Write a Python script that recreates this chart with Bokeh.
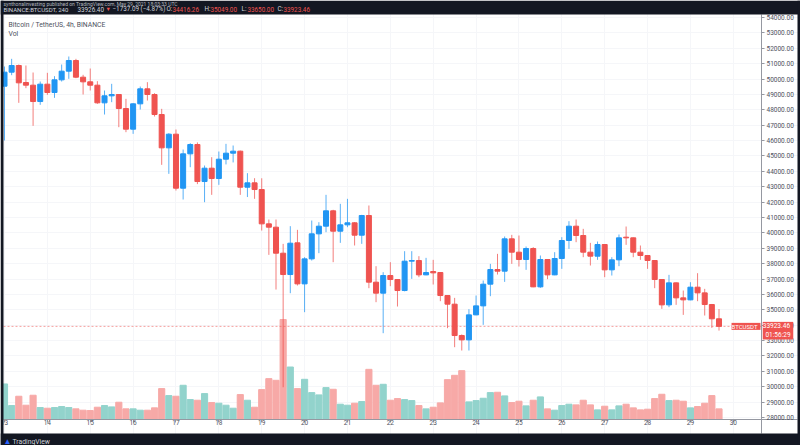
from bokeh.plotting import figure
from bokeh.models import Range1d, FixedTicker, NumeralTickFormatter, Label, BoxAnnotation
from bokeh.embed import file_html
from bokeh.resources import INLINE

# ---- data (BINANCE:BTCUSDT, 4h candles, May 13 00:00 -> May 29 16:00, 2021) ----
day_labels = ["13", "14", "15", "16", "17", "18", "19", "20", "21", "22",
              "23", "24", "25", "26", "27", "28", "29", "30"]
candles_per_day = 6

opens = [49536, 50446, 50880, 49775, 49601, 48539, 49666, 49125, 49948, 50511,
         51205, 50121, 49818, 49601, 48453, 48908, 48995, 48084, 46741, 48388,
         49363, 48995, 47694, 45527, 46416, 42905, 45137, 45744, 43339, 44205,
         43534, 44790, 45181, 45311, 42970, 43252, 42819, 40587, 40371, 38680,
         37294, 39353, 36687, 38312, 39938, 40436, 41433, 40111, 40523, 40653,
         39851, 41130, 36796, 36081, 37229, 36969, 36254, 38161, 38204, 37272,
         37489, 37424, 35929, 35366, 33329, 33047, 34672, 35257, 36666, 37619,
         37511, 39613, 38746, 38270, 38985, 36493, 38270, 37272, 38335, 39505,
         40436, 39830, 38746, 38486, 39245, 37598, 38248, 39721, 39678, 38746,
         38530, 38205, 36970, 35322, 36753, 35778, 35648, 36471, 36102, 35344,
         34416.26]
highs = [50815, 51313, 50945, 50880, 50425, 49839, 50403, 50186, 50945, 51465,
         51313, 50273, 50685, 49861, 49255, 49688, 49020, 48713, 48431, 49514,
         49796, 49080, 48063, 46481, 46719, 45419, 45831, 45880, 44379, 44920,
         45289, 45787, 45679, 45350, 43881, 43555, 43550, 40869, 40869, 39287,
         40436, 40198, 38421, 40804, 40696, 42473, 41500, 41888, 42213, 40700,
         41173, 41780, 37836, 37446, 38096, 37000, 38811, 38811, 38486, 38378,
         38248, 37450, 35950, 35777, 33400, 35041, 35929, 36904, 37987, 38638,
         39765, 39873, 39830, 39115, 39071, 38530, 38300, 38746, 39721, 40761,
         40870, 40263, 39353, 39440, 39270, 38421, 39895, 40415, 39700, 39180,
         38550, 38230, 37000, 37273, 36780, 36254, 36796, 37381, 36363, 35380,
         35049.00]
lows = [46004, 50251, 48453, 49406, 46958, 48323, 48973, 48778, 49839, 50013,
        50056, 48995, 49255, 48388, 47694, 48496, 46871, 46546, 46437, 48019,
        48605, 47564, 44422, 43837, 42754, 42169, 44270, 43170, 41995, 42472,
        43122, 44450, 44580, 42472, 42330, 42212, 40153, 38572, 36318, 29969,
        36080, 36579, 34846, 38204, 38681, 40046, 38096, 39353, 40371, 39180,
        39288, 36406, 35496, 33480, 36536, 35214, 36200, 37012, 37121, 37250,
        36644, 35561, 33805, 32570, 32354, 32354, 34650, 34022, 35886, 37294,
        36817, 37987, 37814, 37598, 36471, 36428, 36991, 37250, 37663, 38963,
        39396, 38421, 37879, 38248, 37121, 37229, 37836, 39223, 38421, 38248,
        37663, 36406, 35063, 35171, 35322, 34672, 35620, 35561, 34629, 33827,
        33650.00]
closes = [50446, 50880, 49753, 49601, 48539, 49666, 49125, 49948, 50511, 51205,
          50121, 49818, 49601, 48453, 48908, 48995, 48084, 46741, 48388, 49363,
          48995, 47694, 45527, 46416, 42905, 45137, 45744, 43339, 44205, 43534,
          44790, 45181, 45311, 42970, 43252, 42819, 40587, 40371, 38680, 37294,
          39330, 36687, 38312, 39938, 40436, 41433, 40111, 40523, 40653, 39851,
          41130, 36796, 36081, 37229, 36969, 36254, 38161, 38204, 37272, 37424,
          37402, 35929, 35366, 33329, 33047, 34672, 35257, 36666, 37619, 37511,
          39613, 38746, 38270, 38985, 36493, 38270, 37272, 38335, 39505, 40436,
          39830, 38746, 38486, 39245, 37598, 38248, 39678, 39678, 38746, 38530,
          38205, 36970, 35322, 36753, 35778, 35648, 36471, 36102, 35344, 34416,
          33923.46]
volumes = [107, 42, 70, 43, 73, 36, 34, 36, 39, 36,
           32, 28, 27, 37, 42, 38, 52, 32, 32, 28,
           28, 35, 93, 72, 70, 103, 60, 58, 78, 51,
           49, 43, 34, 75, 58, 37, 90, 123, 118, 301,
           158, 93, 121, 81, 74, 96, 91, 46, 43, 49,
           54, 151, 103, 106, 58, 63, 60, 57, 42, 32,
           37, 50, 120, 133, 147, 53, 57, 64, 81, 82,
           71, 51, 55, 41, 58, 68, 32, 28, 42, 46,
           44, 58, 44, 29, 40, 29, 41, 46, 35, 29,
           31, 63, 76, 57, 58, 55, 35, 39, 49, 72,
           32]
price_ticks = list(range(28000, 54001, 1000))

header_top = "synthonalinvesting published on TradingView.com, May 29, 2021 18:03:33 UTC"
symbol_text = "BINANCE:BTCUSDT, 240"
last_text = "33926.40"
change_text = "\u22121737.09 (\u22124.87%)"
ohlc_names = ["O:", "H:", "L:", "C:"]
legend_title = "Bitcoin / TetherUS, 4h, BINANCE"
countdown = "01:56:29"

# ---- styling / layout constants ----
UP = "#2196F3"
DOWN = "#EF5350"
VOL_UP = "#92D3CC"
VOL_DOWN = "#F7A9A7"
DARK = "#131722"
FONT = "Roboto"
W, H = 800, 445
X0, SLOT = 4.0, 7.145            # pixel of first candle, pixels per candle
Y_REF, P_REF, PX_PER_1000 = 17.0, 54000.0, 15.385
VOL_BASE_PX = 419.0              # volume baseline pixel row
VOL_PX_PER_UNIT = 100.0 / 301.0


def ix(px):      # pixel column -> candle index
    return (px - X0) / SLOT


def pr(py):      # pixel row -> price
    return P_REF - (py - Y_REF) / PX_PER_1000 * 1000.0


n = len(opens)
idx = list(range(n))
is_up = [c >= o for o, c in zip(opens, closes)]
body_top = [max(o, c) for o, c in zip(opens, closes)]
body_bot = [min(o, c) for o, c in zip(opens, closes)]
ccol = [UP if u else DOWN for u in is_up]
vcol = [VOL_UP if u else VOL_DOWN for u in is_up]

p = figure(width=W, height=H, output_backend="svg", toolbar_location=None,
           x_range=Range1d(ix(0), ix(W)), y_range=Range1d(pr(H), pr(0)),
           y_axis_location="right", title_location=None,
           min_border=0, min_border_left=0, min_border_right=0,
           min_border_top=0, min_border_bottom=0,
           background_fill_color="white", border_fill_color=DARK,
           outline_line_color=None)

p.extra_y_ranges = {"vol": Range1d(-(H - VOL_BASE_PX) / VOL_PX_PER_UNIT,
                                   VOL_BASE_PX / VOL_PX_PER_UNIT)}

# grid (very faint)
p.ygrid.ticker = FixedTicker(ticks=price_ticks)
p.xgrid.ticker = FixedTicker(ticks=[k * candles_per_day for k in range(len(day_labels))])
p.grid.grid_line_color = "#f5f6f9"

# volume
p.vbar(x=idx, top=volumes, bottom=0, width=0.86, fill_color=vcol, line_color=vcol,
       y_range_name="vol")

# price line (dotted) up to the price scale
p.segment(x0=[ix(3)], x1=[ix(761)], y0=[closes[-1]], y1=[closes[-1]],
          line_color=DOWN, line_alpha=0.55, line_dash="2 2", line_width=1)

# candles
p.segment(x0=idx, y0=lows, x1=idx, y1=highs, line_color=ccol, line_width=1, line_alpha=0.75)
p.vbar(x=idx, top=body_top, bottom=body_bot, width=0.7, fill_color=ccol, line_color=ccol)

# axes, fixed inside the frame
ya = p.yaxis[0]
ya.fixed_location = ix(761)
ya.bounds = (pr(433), pr(14))
ya.ticker = FixedTicker(ticks=price_ticks)
ya.formatter = NumeralTickFormatter(format="0.00")
xa = p.xaxis[0]
xa.fixed_location = pr(419)
xa.bounds = (ix(3), ix(797))
xa.ticker = FixedTicker(ticks=[k * candles_per_day for k in range(len(day_labels))])
xa.major_label_overrides = {k * candles_per_day: d for k, d in enumerate(day_labels)}
for ax in (ya, xa):
    ax.major_label_text_font = FONT
    ax.major_label_text_font_size = "6.5px"
    ax.major_label_text_color = "#50535e"
    ax.major_tick_out = 3
    ax.major_tick_in = 0
    ax.major_tick_line_color = "#9598a1"
    ax.minor_tick_line_color = None
    ax.axis_line_color = "#9598a1"
    ax.major_label_standoff = 2
xa.major_label_standoff = -3

# dark frame bands of the snapshot
for (l, r, t, b) in [(0, W, 0, 14), (0, W, 433, H), (0, 3, 0, H), (797, W, 0, H)]:
    p.add_layout(BoxAnnotation(left=ix(l), right=ix(r), top=pr(t), bottom=pr(b),
                               fill_color=DARK, fill_alpha=1.0, line_color=None))


# ---- text annotations (screen units: x = canvas x, y = H - canvas y) ----
def lab(x, cy, text, color, size="6.3px", baseline="middle", **kw):
    p.add_layout(Label(x=x, y=H - cy, x_units="screen", y_units="screen", text=text,
                       text_color=color, text_font=FONT, text_font_size=size,
                       text_baseline=baseline, **kw))


lab(3, 0, header_top, "#b2b5be", size="5px", baseline="top")
lab(3, 8.5, symbol_text, "#d1d4dc", size="6px")
lab(77, 8.5, last_text, "#d1d4dc")
lab(105, 8.5, "\u25BC", DOWN, size="5.5px")
lab(112, 8.5, change_text, "#d1d4dc")
ohlc_vals = [opens[-1], highs[-1], lows[-1], closes[-1]]
ox = [166, 204, 241, 277]
for xx, nm, vv in zip(ox, ohlc_names, ohlc_vals):
    lab(xx, 8.5, nm, "#d1d4dc")
    lab(xx + 6, 8.5, f"{vv:.2f}", DOWN)

lab(8, 24, legend_title, "#4c525e", size="6.8px")
lab(8, 33, "Vol", "#4c525e", size="6.8px")

lab(3, 441, "\u25B2", "#2962ff", size="8px")
lab(12, 441, "TradingView", "#d1d4dc", size="6.8px")

# tags on the price line
p.add_layout(Label(x=745.5, y=closes[-1], x_units="screen", text=" BTCUSDT ",
                   text_color="white", text_font=FONT, text_font_size="6px",
                   text_baseline="middle", text_align="center",
                   background_fill_color=DOWN))
p.add_layout(Label(x=777.5, y=closes[-1], x_units="screen", y_offset=4.5,
                   text=f" {closes[-1]:.2f} \n{countdown}",
                   text_color="white", text_font=FONT, text_font_size="6.5px",
                   text_baseline="top", text_align="center",
                   background_fill_color=DOWN))

open("out.html", "w").write(file_html(p, INLINE))
